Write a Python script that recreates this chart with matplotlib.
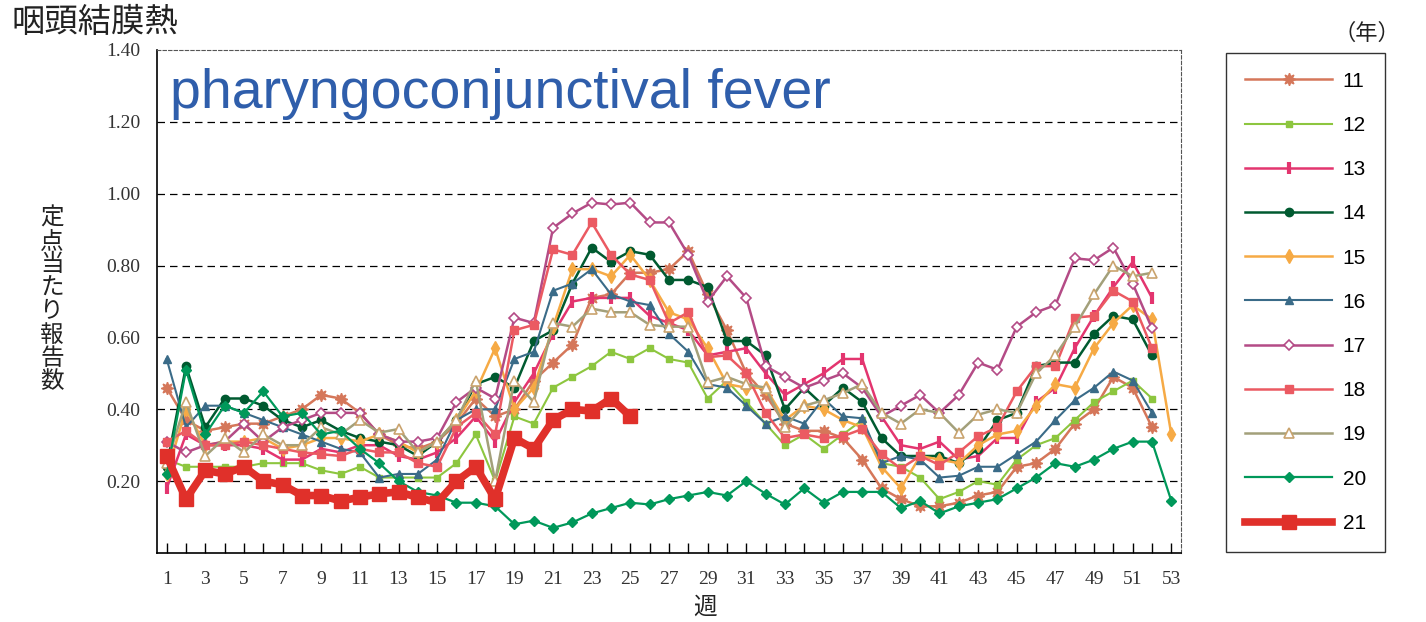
import matplotlib
matplotlib.use("Agg")
import matplotlib.pyplot as plt
import numpy as np

plt.rcParams['font.family'] = ['Noto Sans CJK JP', 'DejaVu Sans']

nan = np.nan
weeks = np.arange(1, 54)

# 定点当たり報告数 (週別, 年別)
y11 = [0.46, 0.37, 0.34, 0.35, 0.36, 0.36, 0.38, 0.40, 0.44, 0.43, 0.39, 0.33, 0.30, 0.29, 0.31, 0.36, 0.43, 0.38,
       0.40, 0.48, 0.53, 0.58, 0.71, 0.72, 0.78, 0.78, 0.79, 0.84, 0.72, 0.62, 0.50, 0.44, 0.36, 0.34, 0.34, 0.32,
       0.26, 0.18, 0.15, 0.13, 0.13, 0.14, 0.16, 0.17, 0.24, 0.25, 0.29, 0.36, 0.40, 0.49, 0.46, 0.35, nan]
y12 = [0.26, 0.24, 0.24, 0.24, 0.24, 0.25, 0.25, 0.25, 0.23, 0.22, 0.24, 0.21, 0.21, 0.21, 0.21, 0.25, 0.33, 0.20,
       0.38, 0.36, 0.46, 0.49, 0.52, 0.56, 0.54, 0.57, 0.54, 0.53, 0.43, 0.48, 0.42, 0.36, 0.30, 0.33, 0.29, 0.33,
       0.37, 0.25, 0.24, 0.21, 0.15, 0.17, 0.20, 0.19, 0.26, 0.30, 0.32, 0.37, 0.42, 0.45, 0.48, 0.43, nan]
y13 = [0.18, 0.33, 0.30, 0.30, 0.30, 0.29, 0.26, 0.26, 0.29, 0.28, 0.30, 0.30, 0.27, 0.26, 0.28, 0.32, 0.38, 0.31,
       0.42, 0.50, 0.61, 0.70, 0.71, 0.71, 0.71, 0.66, 0.64, 0.62, 0.55, 0.56, 0.57, 0.50, 0.44, 0.47, 0.50, 0.54,
       0.54, 0.38, 0.30, 0.29, 0.31, 0.26, 0.27, 0.32, 0.32, 0.42, 0.46, 0.57, 0.66, 0.74, 0.81, 0.71, nan]
y14 = [0.24, 0.52, 0.35, 0.43, 0.43, 0.41, 0.37, 0.35, 0.37, 0.34, 0.32, 0.31, 0.30, 0.27, 0.31, 0.37, 0.47, 0.49,
       0.46, 0.59, 0.62, 0.75, 0.85, 0.81, 0.84, 0.83, 0.76, 0.76, 0.74, 0.59, 0.59, 0.55, 0.40, 0.46, 0.41, 0.46,
       0.42, 0.32, 0.27, 0.27, 0.27, 0.25, 0.29, 0.37, 0.39, 0.52, 0.53, 0.53, 0.61, 0.66, 0.65, 0.55, nan]
y15 = [0.22, 0.40, 0.30, 0.31, 0.31, 0.32, 0.29, 0.30, 0.32, 0.32, 0.31, 0.33, 0.31, 0.28, 0.31, 0.37, 0.45, 0.57,
       0.40, 0.46, 0.63, 0.79, 0.79, 0.77, 0.83, 0.76, 0.67, 0.65, 0.57, 0.47, 0.46, 0.46, 0.37, 0.41, 0.40, 0.37,
       0.35, 0.24, 0.18, 0.27, 0.26, 0.25, 0.30, 0.33, 0.34, 0.41, 0.47, 0.46, 0.57, 0.64, 0.69, 0.65, 0.33]
y16 = [0.54, 0.35, 0.41, 0.41, 0.39, 0.37, 0.35, 0.33, 0.31, 0.29, 0.28, 0.21, 0.22, 0.22, 0.26, 0.37, 0.40, 0.40,
       0.54, 0.56, 0.73, 0.75, 0.79, 0.72, 0.70, 0.69, 0.61, 0.56, 0.47, 0.46, 0.41, 0.36, 0.38, 0.36, 0.43, 0.38,
       0.375, 0.25, 0.27, 0.26, 0.21, 0.215, 0.24, 0.24, 0.275, 0.31, 0.37, 0.425, 0.46, 0.505, 0.48, 0.39, nan]
y17 = [0.31, 0.28, 0.30, 0.31, 0.36, 0.31, 0.35, 0.37, 0.39, 0.39, 0.39, 0.33, 0.31, 0.31, 0.32, 0.42, 0.46, 0.43,
       0.655, 0.64, 0.905, 0.945, 0.975, 0.97, 0.975, 0.92, 0.92, 0.83, 0.70, 0.77, 0.71, 0.52, 0.49, 0.46, 0.48,
       0.50, 0.46, 0.38, 0.41, 0.44, 0.39, 0.44, 0.53, 0.51, 0.63, 0.67, 0.69, 0.82, 0.815, 0.85, 0.75, 0.625, nan]
y18 = [0.31, 0.34, 0.30, 0.30, 0.31, 0.30, 0.29, 0.28, 0.275, 0.27, 0.29, 0.28, 0.28, 0.25, 0.24, 0.35, 0.39, 0.33,
       0.62, 0.635, 0.845, 0.83, 0.92, 0.83, 0.775, 0.76, 0.64, 0.67, 0.545, 0.55, 0.50, 0.39, 0.32, 0.33, 0.32,
       0.325, 0.345, 0.275, 0.235, 0.27, 0.245, 0.28, 0.325, 0.35, 0.45, 0.52, 0.52, 0.655, 0.66, 0.73, 0.70, 0.57, nan]
y19 = [0.25, 0.42, 0.27, 0.32, 0.28, 0.33, 0.30, 0.30, 0.35, 0.33, 0.37, 0.335, 0.345, 0.28, 0.31, 0.37, 0.48, 0.20,
       0.48, 0.42, 0.64, 0.63, 0.68, 0.67, 0.67, 0.635, 0.63, 0.63, 0.475, 0.49, 0.47, 0.46, 0.35, 0.41, 0.425,
       0.445, 0.47, 0.39, 0.36, 0.40, 0.39, 0.335, 0.385, 0.40, 0.39, 0.50, 0.55, 0.63, 0.72, 0.80, 0.77, 0.78, nan]
y20 = [0.22, 0.51, 0.33, 0.41, 0.39, 0.45, 0.38, 0.39, 0.33, 0.34, 0.29, 0.25, 0.20, 0.17, 0.16, 0.14, 0.14, 0.13,
       0.08, 0.09, 0.07, 0.085, 0.11, 0.125, 0.14, 0.135, 0.15, 0.16, 0.17, 0.16, 0.20, 0.165, 0.135, 0.18, 0.14,
       0.17, 0.17, 0.17, 0.125, 0.145, 0.11, 0.13, 0.14, 0.15, 0.18, 0.21, 0.25, 0.24, 0.26, 0.29, 0.31, 0.31, 0.145]
y21 = [0.27, 0.15, 0.23, 0.22, 0.24, 0.20, 0.19, 0.16, 0.16, 0.145, 0.155, 0.165, 0.17, 0.155, 0.14, 0.20, 0.24,
       0.15, 0.32, 0.29, 0.37, 0.40, 0.395, 0.43, 0.38]

years = ['11', '12', '13', '14', '15', '16', '17', '18', '19', '20', '21']
series = [y11, y12, y13, y14, y15, y16, y17, y18, y19, y20, y21]

# 年ごとの線とマーカーの見た目
styles = {
    '11': dict(color='#d5775a', lw=1.8, marker=(8, 1, 0), ms=9, mfc='#d5775a', mec='#d5775a'),
    '12': dict(color='#8dc63f', lw=1.5, marker='s', ms=5, mfc='#8dc63f', mec='#8dc63f'),
    '13': dict(color='#e3356f', lw=1.8, marker='|', ms=9, mew=3, mec='#e3356f'),
    '14': dict(color='#005a30', lw=1.8, marker='o', ms=6, mfc='#005a30', mec='#005a30'),
    '15': dict(color='#f6aa45', lw=1.8, marker='d', ms=7, mfc='#f6aa45', mec='#f6aa45'),
    '16': dict(color='#3a6b88', lw=1.5, marker='^', ms=6, mfc='#3a6b88', mec='#3a6b88'),
    '17': dict(color='#b44b86', lw=1.8, marker='D', ms=5, mfc='white', mec='#b44b86', mew=1.2),
    '18': dict(color='#eb5a62', lw=1.8, marker='s', ms=6, mfc='#eb5a62', mec='#eb5a62'),
    '19': dict(color='#a3a07a', lw=1.8, marker='^', ms=7, mfc='white', mec='#c9a36e', mew=1.2),
    '20': dict(color='#00985a', lw=1.6, marker='D', ms=5, mfc='#00985a', mec='#00985a'),
    '21': dict(color='#e0302a', lw=5.5, marker='s', ms=10, mfc='#e0302a', mec='#e0302a'),
}

fig = plt.figure(figsize=(14.26, 6.22), dpi=100)
ax = fig.add_axes([157 / 1426, 1 - 553 / 622, (1181 - 157) / 1426, (553 - 50) / 622])

handles = []
for i, (yr, vals) in enumerate(zip(years, series)):
    vals = np.array(vals, dtype=float)
    h, = ax.plot(weeks[:len(vals)], vals, label=yr, zorder=2 + i, **styles[yr])
    handles.append(h)

ax.set_xlim(0.5, 53.5)
ax.set_ylim(0, 1.4)
ax.set_yticks(np.arange(0.2, 1.41, 0.2))
ax.set_yticklabels([f'{v:.2f}' for v in np.arange(0.2, 1.41, 0.2)], family='Liberation Serif',
                   fontsize=14, color='#333333')
ax.set_xticks(weeks)
ax.set_xticklabels([str(w) if w % 2 == 1 else '' for w in weeks], family='Liberation Serif',
                   fontsize=14, color='#333333')
ax.tick_params(axis='y', length=0, pad=12)
ax.tick_params(axis='x', direction='in', length=7, width=1, pad=13)

for v in np.arange(0.2, 1.21, 0.2):
    ax.axhline(v, color='black', lw=0.9, ls=(0, (6, 4)), zorder=1)
for s in ['top', 'right']:
    ax.spines[s].set_linestyle((0, (3, 2)))
    ax.spines[s].set_color('#555555')
    ax.spines[s].set_linewidth(0.8)
for s in ['left', 'bottom']:
    ax.spines[s].set_linewidth(1.2)

ax.text(0.013, 0.965, 'pharyngoconjunctival fever', transform=ax.transAxes, ha='left', va='top',
        family='Liberation Sans', fontsize=40, color='#2f5eab')

fig.text(12 / 1426, 1 - 22 / 622, '咽頭結膜熱', ha='left', va='center', fontsize=24, color='#222222')
fig.text(52 / 1426, 1 - 300 / 622, '\n'.join('定点当たり報告数'), ha='center', va='center',
         fontsize=17, linespacing=1.02, color='#222222')
fig.text(705 / 1426, 1 - 607 / 622, '週', ha='center', va='center', fontsize=17, color='#222222')
fig.text(1367 / 1426, 1 - 33 / 622, '（年）', ha='center', va='center', fontsize=16, color='#222222')

leg = fig.legend(handles, years, loc='upper left', bbox_to_anchor=(1226 / 1426, 1 - 53 / 622),
                 frameon=True, fancybox=False, edgecolor='black', fontsize=15, handlelength=4.2,
                 handletextpad=0.5, labelspacing=1.21, borderpad=0.9, borderaxespad=0)
leg.get_frame().set_linewidth(1.0)
for t in leg.get_texts():
    t.set_family('Liberation Sans')

fig.savefig('out.png', dpi=100)
